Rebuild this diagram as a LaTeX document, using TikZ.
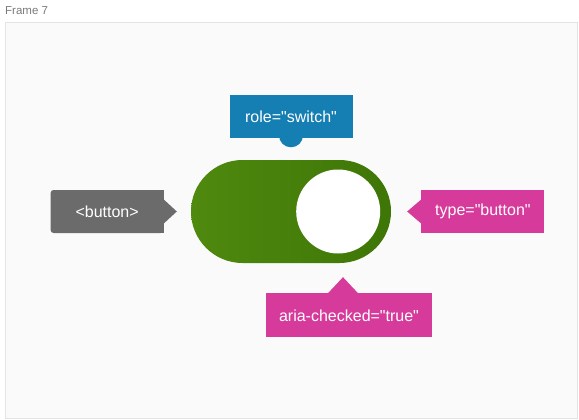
\documentclass[tikz,border=0pt]{standalone}
\usepackage{fontspec}
\setmainfont{Liberation Sans}[Ligatures=TeXOff]
\usetikzlibrary{positioning}
\definecolor{frameBg}{HTML}{FAFAFA}
\definecolor{frameLine}{HTML}{E4E4E4}
\definecolor{titleGray}{HTML}{7A7A7A}
\definecolor{tagGray}{HTML}{6B6B6B}
\definecolor{roleBlue}{HTML}{157EB2}
\definecolor{ariaPink}{HTML}{D63B9B}
\definecolor{greenL}{HTML}{4F890E}
\definecolor{greenR}{HTML}{3E7607}

\begin{document}
\begin{tikzpicture}[x=1pt, y=-1pt,
  tag/.style={inner sep=0pt, text=white, minimum height=43pt,
    font=\fontsize{16}{19}\selectfont},
  toggle/.style={minimum width=200pt, minimum height=103pt,
    rounded corners=51.5pt, left color=greenL, right color=greenR, inner sep=0pt}]
  \useasboundingbox (0,0) rectangle (579,420);
  \draw[frameLine, fill=frameBg] (5.5,22.5) rectangle (577,418);
  \node[anchor=base west, inner sep=0pt, text=titleGray,
    font=\fontsize{11.5}{13}\selectfont] (title) at (5,15) {Frame 7};

  % switch
  \node[toggle] (switch) at (291,211.5) {};
  \node[circle, fill=white, inner sep=0pt, minimum size=84pt] (knob)
    at ([xshift=-53pt]switch.east) {};

  % tags
  \node[tag, fill=tagGray, rounded corners=3pt, minimum width=113pt,
    left=27pt of switch] (btn) {<button>};
  \fill[tagGray] ([xshift=-4pt]btn.north east) rectangle (btn.south east);
  \fill[tagGray] ([yshift=12pt]btn.east) -- ([xshift=13pt]btn.east)
    -- ([yshift=-12pt]btn.east) -- cycle;

  \node[tag, fill=roleBlue, minimum width=123pt,
    above=21.5pt of switch] (role) {role="switch"};
  \fill[roleBlue] ([yshift=3pt]role.south) circle (12pt);

  \node[tag, fill=ariaPink, minimum width=123pt,
    right=30pt of switch] (type) {type="button"};
  \fill[ariaPink] ([yshift=12pt]type.west) -- ([xshift=-14pt]type.west)
    -- ([yshift=-12pt]type.west) -- cycle;

  \node[tag, fill=ariaPink, minimum width=166pt, minimum height=44pt,
    below=30pt of switch, xshift=58pt] (aria) {aria-checked="true"};
  \fill[ariaPink] ([xshift=-21pt]aria.north) -- ([xshift=-6pt, yshift=16pt]aria.north)
    -- ([xshift=9pt]aria.north) -- cycle;
\end{tikzpicture}
\end{document}
